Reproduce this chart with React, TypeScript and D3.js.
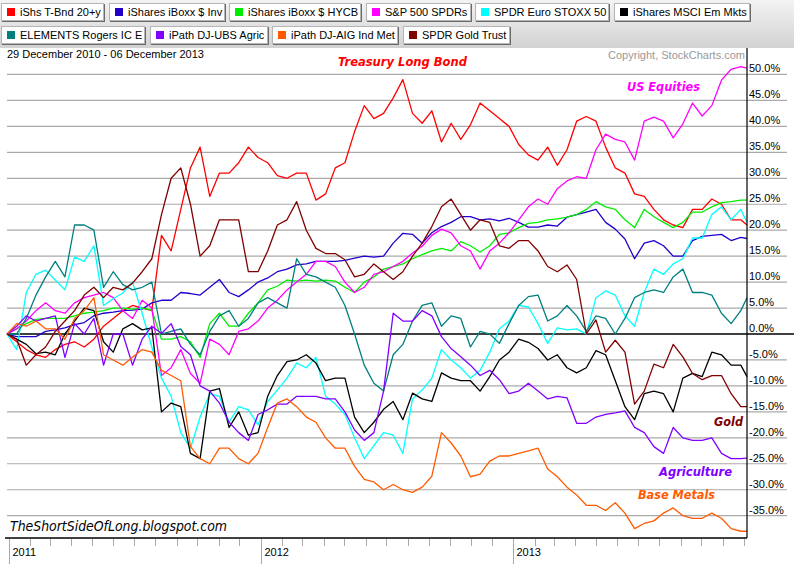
import React, { useMemo } from 'react';
import * as d3 from 'd3';

const START = new Date(2010, 11, 29);
const END = new Date(2013, 11, 6);
const STEP_DAYS = 14;
const SAMPLE_DATES: Date[] = d3
  .range(77)
  .map((i) => d3.timeDay.offset(START, i * STEP_DAYS))
  .concat([END]);

const SERIES_NAMES = [
  'iShs T-Bnd 20+y',
  'iShares iBoxx $ Inv',
  'iShares iBoxx $ HYCB',
  'S&P 500 SPDRs',
  'SPDR Euro STOXX 50',
  'iShares MSCI Em Mkts',
  'ELEMENTS Rogers IC E',
  'iPath DJ-UBS Agric',
  'iPath DJ-AIG Ind Met',
  'SPDR Gold Trust',
];
const SERIES_COLORS = ['#ff0000', '#2200cc', '#00ee00', '#ff00ff', '#00ffff', '#000000', '#007f7f', '#8000ff', '#ff5a00', '#800000'];

const T_BOND = [0,-1.5,-3,-4,-4.5,-3,-2,-1.5,-2.5,-1, 1.5,3,4.5,5.5,5,4.5,19,16,24,32, 36,26.5,31,31,33,36,34,33,30.5,30, 31,31,25.8,27,32,33,39,44,41.5,42.5, 45.5,49,42.5,40.6,43,37,40.6,37.5,40.3,44.5, 43,41.5,40,36.5,34.5,33.5,36,32.5,35.5,41, 41.9,41,36,32,31,27,26.5,24,22,21, 20.5,24,24,26,25,22,22,21];
const IBOXX_INV = [0,-0.5,-0.5,-0.5,0.5,0.8,1.2,1.8,2.2,3.5, 4,4.2,4.5,4.6,4.8,6,6.5,6.5,8,7.8, 7.5,9,10.5,8,7.2,8.5,10,10.8,12,12.5, 13.3,13.5,14,14,14,14.2,14.6,15,14.8,15, 17.5,19.4,19.2,17.5,19.5,20.7,21.5,22.6,22.6,22, 22.2,21.8,22.3,21.5,20.6,20.6,21,20.8,22.5,23, 23.5,24,21.5,20.2,18.3,14.5,17.5,18,17,15, 15,18,18.8,19,19.2,18,18.6,18.4];
const HYCB = [0,1,2,2.8,3,3,3,3.5,4,4.2, 4.5,5,5,4.8,5,4.6,-1,-1,-0.5,-1.5, -4.5,2,4,1.5,1.5,4,6,8.5,9.2,10.4, 10.2,10.4,10.2,10.4,10.2,9,8,10,11,12.5, 13,13.5,14.5,15.3,16,16.5,16,17.8,17,15.8, 17,19.2,19.5,20.5,21.3,21.5,22,22.2,22.5,23, 24,25.5,24.5,24,22,20.5,24,22.6,21.5,20.5, 21.5,23.5,23.5,24.5,25.3,25.5,25.8,25.8];
const SPX = [0,1,2.5,4.5,6,4.5,4,6,7,7.5, 8,7,4.5,3,6.5,5,-8,-6.5,-3,-7.6, -9.5,-1,-2,-4,0.5,1,2.5,5,6.5,8.5, 10,11.5,14,14,13,10,8,9,11.5,12, 13,14,15.6,16.9,19,20.2,19.5,17,16,12.5, 16,17.5,19.5,22,24.5,26,25,28,29.5,30.3, 30,35.5,38.5,37.5,37,33.5,41,41.8,41,37.8, 40.5,44.5,42,44,48.9,51,51.5,51.2];
const STOXX = [0,-3,8,11.5,12.3,10.4,8.5,14.8,14,17, 5.5,6.8,7.9,10,4,-2.5,-8.5,-12,-19,-22, -16,-11.5,-12,-17,-14,-14.6,-17.5,-13,-10.8,-8.5, -5.6,-6.5,-4.5,-12,-13.5,-15.5,-20,-24,-21.5,-19, -19.5,-23,-12.5,-10.8,-8.5,-3,-5,-6.5,-8.5,-7, -3.5,1,2.5,5.5,5.2,2,-1.8,1.2,0.8,1, 0,7,8.3,7.5,3.5,1.5,8,12.5,11.5,13.5, 14.5,18.5,18.5,23,24.5,22,24,21.5];
const EM_MKTS = [0,-1,-2,-3.8,-3.5,-4,0,2.5,5,4.5, -1.5,-3.5,1,2,0.8,1.2,-15,-13.3,-14,-23, -24,-11,-10.5,-18,-15,-19.5,-19,-12,-8,-5.3, -5,-4,-5.6,-9,-8.5,-8.5,-16,-19,-17,-14.5, -13,-16.5,-11.4,-12.5,-13,-7.5,-8.5,-9,-9,-11, -8.2,-5,-3.5,-1,-1.6,-2.8,-5,-4,-6.5,-7.5, -6.5,-3.2,-4,-9,-14,-16.5,-11.5,-11,-11.5,-15, -8.5,-7.6,-8.2,-3.5,-4,-6,-6,-8.2];
const ROGERS = [0,0,3,7.5,11,14,11,21,21,20, 9,12,9.5,8.5,9,10,0,0.5,1,-2, -4,0.5,3.5,4.5,1.5,3,6,7,6,5, 14.5,11.5,11,10,9,5.5,0,-6,-9.5,-11, -4,-2,2.5,5.5,6,1.5,3.5,3,-2.5,0.5, 0,-1.8,2,5.5,7.2,7.5,2.5,3.5,5.5,3.5, 0.5,3.5,3,0,3,7,8,8.5,8,11, 12.5,8,8,7.5,4,2,4.5,7];
const AGRIC = [0,1.5,3.5,2.5,3,3.5,-4.5,2,0,3, -6,0,0,-6,-1,1.5,0.1,2,-2.4,-4, -10,-11,-13.3,-17,-19,-20.5,-15.5,-14.6,-13.5,-13.5, -12,-12,-12,-12.5,-12.5,-15,-18.5,-20.5,-19,-11, 4,2.5,2.5,4.5,3.5,-0.5,-2.8,-4.4,-6,-8, -7,-8.8,-11.5,-11,-9.5,-11,-12.5,-12,-12.3,-17.2, -17.2,-16,-15.5,-15.2,-14.8,-18,-19,-21.7,-23,-18, -20,-20.5,-20.5,-20,-23,-24,-24,-23.9];
const IND_MET = [0,2,1.5,2.5,1,1,-1,3,4.5,7, -4,-5,-6,-4.5,-3,-3.5,-7,-8,-9,-21.7, -24,-25,-22,-22,-24,-25,-23,-18,-13.3,-12.5, -14,-16,-17,-20,-22,-22,-25.5,-28,-28.5,-30, -29,-30,-30.5,-29.5,-27.4,-19,-21,-23.5,-27.5,-27, -24.5,-23.5,-23.5,-23,-22.5,-22,-26,-27.5,-29.5,-31, -33,-33,-34,-32.5,-34.5,-37.5,-36.5,-36,-34.5,-33.5, -35,-35.5,-35.5,-34.5,-35.5,-37.5,-38,-38];
const GOLD = [0,-1,-6,-4,-2.5,0.5,2.5,4.5,7.5,9, 7,9,8.5,9.8,12,14.5,23,30,32,25, 15,17,22,22,22,12,12,16,21,22, 25.5,20,16.5,15.5,15.5,14.3,11,11.5,13.5,12, 10.5,12,15,17.5,20.7,24.5,26,23,20,22, 21.5,17,16.5,18,18,16,13,12,13.3,10.5, 0,2.7,-3.5,-1.2,-3.5,-13.5,-11,-5.8,-6.5,-2, -4.4,-7.6,-8.8,-8,-8,-11.5,-14,-14];

const SERIES_VALUES = [T_BOND, IBOXX_INV, HYCB, SPX, STOXX, EM_MKTS, ROGERS, AGRIC, IND_MET, GOLD];

const Y_TICKS = [50, 45, 40, 35, 30, 25, 20, 15, 10, 5, 0, -5, -10, -15, -20, -25, -30, -35];
const Y_DOMAIN = [-39.3, 55.1];
const DATE_RANGE_TEXT = '29 December 2010 - 06 December 2013';
const COPYRIGHT_TEXT = 'Copyright, StockCharts.com';
const SOURCE_TEXT = 'TheShortSideOfLong.blogspot.com';

const W = 794;
const H = 564;
const PLOT_LEFT = 7;
const PLOT_RIGHT = 747;
const PLOT_TOP = 48;
const PLOT_BOTTOM = 538;
const UI_FONT = "'Liberation Sans', Arial, Helvetica, sans-serif";
const NOTE_FONT = "'DejaVu Sans Condensed', 'DejaVu Sans', Verdana, sans-serif";

function measure(text: string, font: string) {
  if (typeof document === 'undefined') return text.length * 6;
  const c = (measure as any).c || ((measure as any).c = document.createElement('canvas'));
  const ctx = c.getContext('2d');
  ctx.font = font;
  return ctx.measureText(text).width;
}

export default function App() {
  const x = useMemo(() => d3.scaleTime().domain([START, END]).range([PLOT_LEFT, PLOT_RIGHT]), []);
  const y = useMemo(() => d3.scaleLinear().domain(Y_DOMAIN).range([PLOT_BOTTOM, PLOT_TOP]), []);
  const line = d3
    .line<number>()
    .x((_, i) => x(SAMPLE_DATES[i]))
    .y((d) => y(d));

  const legendRows = [SERIES_NAMES.slice(0, 6).map((n, i) => i), SERIES_NAMES.slice(6).map((n, i) => i + 6)];
  const legendItems: { idx: number; x: number; y: number; w: number }[] = [];
  legendRows.forEach((row, r) => {
    let cx = 1;
    row.forEach((idx) => {
      const tw = measure(SERIES_NAMES[idx], `11px ${UI_FONT}`);
      const w = Math.round(tw + 22);
      legendItems.push({ idx, x: Math.round(cx), y: 3 + r * 23, w });
      cx += w + 4.5;
    });
  });

  const months = d3.timeMonth.range(new Date(2011, 0, 1), END);

  return (
    <svg width={W} height={H} style={{ position: 'absolute', left: 0, top: 0, background: '#fff' }} fontFamily={UI_FONT}>
      <defs>
        <linearGradient id="lg" x1="0" y1="0" x2="0" y2="1">
          <stop offset="0" stopColor="#f3f3f3" />
          <stop offset="1" stopColor="#d2d2d2" />
        </linearGradient>
      </defs>
      <rect x={0} y={0} width={W} height={H} fill="#fff" />
      <rect x={0} y={0} width={W} height={48} fill="url(#lg)" />
      {legendItems.map((it) => (
        <g key={it.idx} transform={`translate(${it.x},${it.y})`}>
          <rect x={1} y={1} width={it.w} height={18} fill="#6a6a6a" />
          <rect x={0.5} y={0.5} width={it.w - 1} height={17} fill="#fff" stroke="#b5b5b5" />
          <rect x={6} y={5} width={8} height={8} fill={SERIES_COLORS[it.idx]} />
          <text x={19} y={13} fontSize={11} fill="#000">
            {SERIES_NAMES[it.idx]}
          </text>
        </g>
      ))}
      <text x={7} y={58} fontSize={11} fill="#000">
        {DATE_RANGE_TEXT}
      </text>
      <text x={745} y={59} fontSize={11} fill="#999" textAnchor="end">
        {COPYRIGHT_TEXT}
      </text>

      {Y_TICKS.map((v) => (
        <g key={v}>
          <line x1={PLOT_LEFT} x2={v === 0 ? W : 787} y1={y(v)} y2={y(v)} stroke={v === 0 ? '#000' : '#aaa'} strokeWidth={v === 0 ? 1.3 : 1.2} />
          <text x={749} y={y(v) - 2} fontSize={11} fill="#000">
            {`${v.toFixed(1)}%`}
          </text>
        </g>
      ))}

      {SERIES_VALUES.map((vals, si) => (
        <path key={si} d={line(vals) || ''} fill="none" stroke={SERIES_COLORS[si]} strokeWidth={1.3} strokeLinejoin="round" />
      ))}

      <line x1={PLOT_RIGHT} x2={PLOT_RIGHT} y1={PLOT_TOP} y2={PLOT_BOTTOM} stroke="#000" strokeWidth={1.2} />
      <line x1={5} x2={PLOT_RIGHT} y1={PLOT_BOTTOM} y2={PLOT_BOTTOM} stroke="#000" strokeWidth={1.3} />
      {months.map((m) => {
        const isYear = m.getMonth() === 0;
        const mx = Math.round(x(m)) + 0.5;
        return (
          <g key={+m}>
            <line x1={mx} x2={mx} y1={PLOT_BOTTOM + 1} y2={isYear ? H : PLOT_BOTTOM + 8} stroke="#aaa" strokeWidth={1} />
            {isYear && (
              <text x={mx + 3} y={556} fontSize={11} fill="#000">
                {m.getFullYear()}
              </text>
            )}
          </g>
        );
      })}

      <g fontFamily={NOTE_FONT} fontStyle="italic" fontWeight="bold" fontSize={13} style={{ fontStretch: 'condensed' }}>
        <text x={338} y={66} fill="#ff0000" textLength={129} lengthAdjust="spacingAndGlyphs">Treasury Long Bond</text>
        <text x={627} y={91} fill="#ff00ff" textLength={73} lengthAdjust="spacingAndGlyphs">US Equities</text>
        <text x={714} y={426} fill="#800000" textLength={29} lengthAdjust="spacingAndGlyphs">Gold</text>
        <text x={659} y={476} fill="#8000ff" textLength={73} lengthAdjust="spacingAndGlyphs">Agriculture</text>
        <text x={638} y={499} fill="#ff5a00" textLength={77} lengthAdjust="spacingAndGlyphs">Base Metals</text>
      </g>
      <text x={10} y={531} fontFamily={NOTE_FONT} fontStyle="italic" fontSize={14} style={{ fontStretch: 'condensed' }} textLength={217} lengthAdjust="spacingAndGlyphs" fill="#000">
        {SOURCE_TEXT}
      </text>
    </svg>
  );
}
